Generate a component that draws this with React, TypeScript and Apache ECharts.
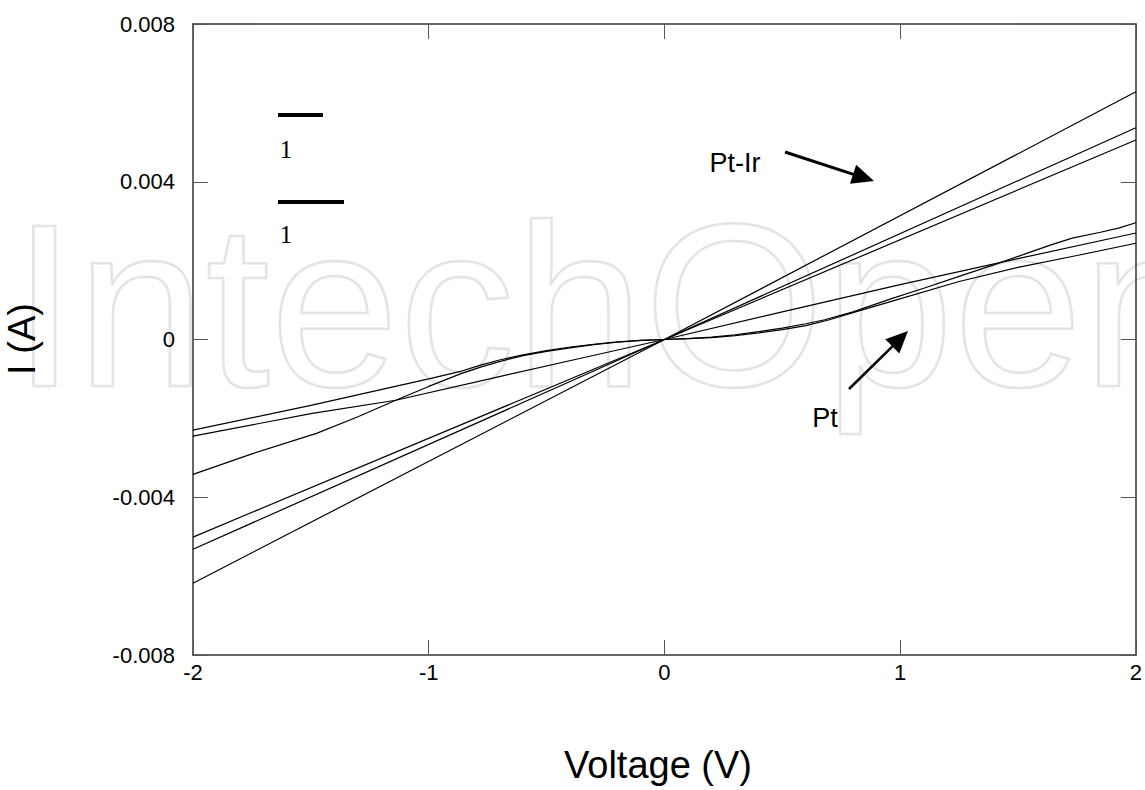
import React, { useEffect, useRef } from "react";
import * as echarts from "echarts";

// ---- Data ----
const xTicks = [-2, -1, 0, 1, 2];
const yTicks = [-0.008, -0.004, 0, 0.004, 0.008];

// Pt-Ir curves (nearly ohmic)
const ptIr1V = [-2, 0, 2];
const ptIr1I = [-0.00618, 0, 0.00628];
const ptIr2V = [-2, 0, 2];
const ptIr2I = [-0.00532, 0, 0.00537];
const ptIr3V = [-2, 0, 2];
const ptIr3I = [-0.00501, 0, 0.00506];

// Pt curves (non-linear)
const ptAV = [-2, -1.75, -1.476, -1.3, -1.14, -1.0, -0.86, -0.78, -0.7, -0.6, -0.5, -0.4, -0.3, -0.2, -0.1, 0, 0.1, 0.2, 0.3, 0.4, 0.5, 0.6, 0.68, 0.8, 0.97, 1.1, 1.25, 1.4, 1.54, 1.64, 1.73, 1.85, 1.93, 2];
const ptAI = [-0.00342, -0.0029, -0.00238, -0.00196, -0.00154, -0.00119, -0.00086, -0.0007, -0.00056, -0.00041, -0.0003, -0.00021, -0.00013, -0.00007, -0.00002, 0, 0.00002, 0.00006, 0.00012, 0.0002, 0.00029, 0.0004, 0.0005, 0.0007, 0.00105, 0.0013, 0.0016, 0.0019, 0.00219, 0.0024, 0.00257, 0.00272, 0.00283, 0.00296];
const ptBV = [-2, -1.5, -1, -0.86, -0.78, -0.7, -0.6, -0.5, -0.4, -0.3, -0.2, -0.1, 0, 0.1, 0.2, 0.3, 0.4, 0.5, 0.6, 0.7, 0.8, 0.97, 1.25, 1.5, 1.75, 2];
const ptBI = [-0.0023, -0.00167, -0.001, -0.0008, -0.00065, -0.00052, -0.00039, -0.00028, -0.00019, -0.00012, -0.00006, -0.00002, 0, 0.00002, 0.00005, 0.0001, 0.00017, 0.00025, 0.00035, 0.0005, 0.00068, 0.00098, 0.00147, 0.00183, 0.00213, 0.00244];
const ptCV = [-2, -1.5, -1.14, -0.7, -0.35, 0, 0.5, 1, 1.5, 2];
const ptCI = [-0.00245, -0.00188, -0.00154, -0.00094, -0.00047, 0, 0.0007, 0.00139, 0.00205, 0.0027];

const seriesList = [
  { name: "Pt-Ir 1", v: ptIr1V, i: ptIr1I },
  { name: "Pt-Ir 2", v: ptIr2V, i: ptIr2I },
  { name: "Pt-Ir 3", v: ptIr3V, i: ptIr3I },
  { name: "Pt A", v: ptAV, i: ptAI },
  { name: "Pt B", v: ptBV, i: ptBI },
  { name: "Pt C", v: ptCV, i: ptCI },
];

const FONT = "'Liberation Sans', Arial, Helvetica, sans-serif";
const SERIF = "'Liberation Serif', 'Times New Roman', serif";

function arrow(x0: number, y0: number, x1: number, y1: number, headLen: number, headW: number, lw: number) {
  const dx = x1 - x0, dy = y1 - y0;
  const L = Math.hypot(dx, dy);
  const ux = dx / L, uy = dy / L;
  const nx = -uy, ny = ux;
  const bx = x1 - ux * headLen, by = y1 - uy * headLen;
  return [
    { type: "line", shape: { x1: x0, y1: y0, x2: bx + ux * 2, y2: by + uy * 2 }, style: { stroke: "#000", lineWidth: lw }, z: 10 },
    {
      type: "polygon",
      shape: { points: [[x1, y1], [bx + (nx * headW) / 2, by + (ny * headW) / 2], [bx - (nx * headW) / 2, by - (ny * headW) / 2]] },
      style: { fill: "#000" },
      z: 10,
    },
  ];
}

export default function App() {
  const ref = useRef<HTMLDivElement>(null);
  useEffect(() => {
    if (!ref.current) return;
    const chart = echarts.init(ref.current, null, { renderer: "svg" });
    const axisLineStyle = { color: "#333", width: 1.5 };
    const tickStyle = { color: "#555", width: 1 };
    const yFmt = (v: number) => (Math.abs(v) < 1e-12 ? "0" : v.toFixed(3));
    const option: any = {
      animation: false,
      backgroundColor: "#fff",
      grid: { left: 193, right: 8, top: 24, bottom: 135, containLabel: false },
      xAxis: [
        {
          type: "value", min: -2, max: 2, interval: 1, position: "bottom",
          axisLine: { show: true, onZero: false, lineStyle: axisLineStyle },
          axisTick: { show: true, inside: true, length: 15, lineStyle: tickStyle },
          axisLabel: { show: true, fontSize: 22, fontFamily: FONT, color: "#000", margin: 6, customValues: xTicks },
          splitLine: { show: false },
        },
        {
          type: "value", min: -2, max: 2, interval: 1, position: "top",
          axisLine: { show: true, onZero: false, lineStyle: axisLineStyle },
          axisTick: { show: true, inside: true, length: 15, lineStyle: tickStyle },
          axisLabel: { show: false },
          splitLine: { show: false },
        },
      ],
      yAxis: [
        {
          type: "value", min: -0.008, max: 0.008, interval: 0.004, position: "left",
          axisLine: { show: true, onZero: false, lineStyle: axisLineStyle },
          axisTick: { show: true, inside: true, length: 15, lineStyle: tickStyle },
          axisLabel: { show: true, fontSize: 22, fontFamily: FONT, color: "#000", margin: 18, formatter: yFmt, customValues: yTicks },
          splitLine: { show: false },
        },
        {
          type: "value", min: -0.008, max: 0.008, interval: 0.004, position: "right",
          axisLine: { show: true, onZero: false, lineStyle: axisLineStyle },
          axisTick: { show: true, inside: true, length: 15, lineStyle: tickStyle },
          axisLabel: { show: false },
          splitLine: { show: false },
        },
      ],
      series: seriesList.map((s) => ({
        name: s.name,
        type: "line",
        xAxisIndex: 0,
        yAxisIndex: 0,
        data: s.v.map((v, k) => [v, s.i[k]]),
        showSymbol: false,
        symbol: "none",
        smooth: false,
        lineStyle: { color: "#000", width: 1.2 },
        z: 5,
      })),
      graphic: [
        {
          type: "text", x: 12, y: 305, z: -1, silent: true,
          style: { text: "IntechOpen", fontSize: 232, fontFamily: FONT, fill: "none", stroke: "#e4e4e4", lineWidth: 2.5, verticalAlign: "middle", align: "left" },
        },
        // legend marks
        { type: "rect", shape: { x: 278, y: 113, width: 45, height: 4 }, style: { fill: "#000" } },
        { type: "text", x: 286, y: 149, style: { text: "1", fontSize: 25, fontFamily: SERIF, fill: "#000", align: "center", verticalAlign: "middle" } },
        { type: "rect", shape: { x: 278, y: 200, width: 66, height: 4 }, style: { fill: "#000" } },
        { type: "text", x: 286, y: 234, style: { text: "1", fontSize: 25, fontFamily: SERIF, fill: "#000", align: "center", verticalAlign: "middle" } },
        // annotations
        { type: "text", x: 735, y: 163, style: { text: "Pt-Ir", fontSize: 27, fontFamily: FONT, fill: "#000", align: "center", verticalAlign: "middle" } },
        ...arrow(785, 152, 874, 181, 22, 20, 3),
        { type: "text", x: 825, y: 418, style: { text: "Pt", fontSize: 27, fontFamily: FONT, fill: "#000", align: "center", verticalAlign: "middle" } },
        ...arrow(849, 389, 908, 331, 22, 20, 2.5),
        // axis names
        { type: "text", x: 658, y: 765, style: { text: "Voltage (V)", fontSize: 38, fontFamily: FONT, fill: "#000", align: "center", verticalAlign: "middle" } },
        { type: "text", x: 22, y: 339, rotation: Math.PI / 2, style: { text: "I (A)", fontSize: 38, fontFamily: FONT, fill: "#000", align: "center", verticalAlign: "middle" } },
      ],
    };
    chart.setOption(option);
    return () => chart.dispose();
  }, []);
  return <div ref={ref} style={{ position: "absolute", left: 0, top: 0, width: 1145, height: 790 }} />;
}
